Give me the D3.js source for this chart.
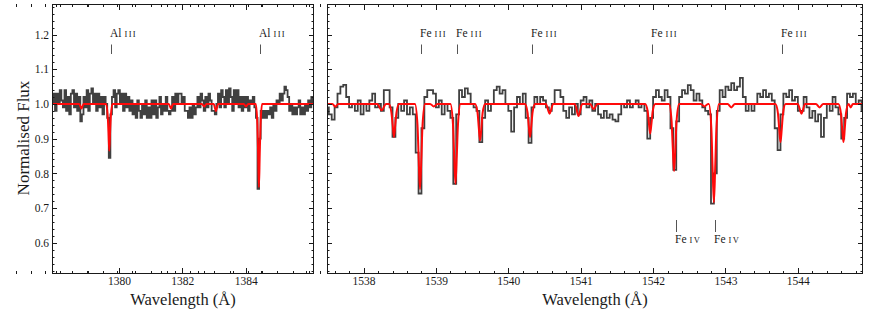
<!DOCTYPE html>
<html>
<head>
<meta charset="utf-8">
<script src="https://cdn.jsdelivr.net/npm/d3@7"></script>
<style>
  body { margin: 0; background: #fff; }
  svg { display: block; font-family: "Liberation Serif", "Times New Roman", serif; }
</style>
</head>
<body>
<svg width="872" height="312"></svg>
<script>
// observed spectrum, Al III window (bins of 0.05 A starting at leftStart)
const leftStart = 1377.90;
const leftStep = 0.05;
const leftFlux = [
  1.00, 1.03, 0.98, 1.03, 1.00, 1.04, 1.01, 0.99, 1.04, 0.98,
  1.02, 0.97, 1.03, 1.04, 0.99, 1.03, 0.98, 1.02, 0.95, 0.97,
  1.02, 0.99, 1.04, 0.98, 1.03, 1.045, 1.00, 1.03, 0.98, 1.03,
  0.99, 1.02, 0.97, 1.02, 1.00, 0.96, 0.845, 0.97, 1.02, 1.04,
  0.99, 1.03, 1.04, 1.00, 1.03, 0.98, 1.03, 0.99, 1.02, 0.98,
  1.01, 0.97, 1.00, 0.96, 1.01, 0.98, 0.96, 1.00, 0.97, 1.01,
  0.96, 0.99, 0.96, 1.01, 0.97, 1.01, 0.96, 0.99, 1.02, 0.97,
  1.00, 0.98, 1.02, 0.98, 0.97, 0.98, 1.02, 0.98, 1.03, 1.00,
  1.03, 1.03, 1.00, 1.02, 0.98, 0.98, 0.96, 0.99, 0.96, 1.00,
  0.97, 0.99, 1.02, 0.99, 1.03, 1.01, 0.98, 1.02, 0.99, 1.03,
  1.01, 0.98, 0.98, 0.97, 1.00, 1.03, 0.99, 1.04, 1.02, 0.99,
  1.04, 1.00, 1.045, 1.02, 0.98, 1.04, 1.00, 1.04, 0.99, 1.02,
  0.98, 1.02, 0.99, 1.02, 0.98, 1.01, 1.00, 1.02, 0.99, 0.96,
  0.755, 0.90, 0.98, 0.96, 0.98, 0.96, 0.98, 0.97, 0.99, 0.96,
  1.00, 0.98, 1.01, 1.00, 1.03, 1.01, 1.03, 1.05, 1.04, 1.02,
  0.98, 1.00, 0.97, 0.99, 0.97, 0.99, 1.01, 0.97, 0.99, 0.97,
  1.00, 0.98, 1.01, 0.99, 1.02, 1.00
];

// observed spectrum, Fe III / Fe IV window (bins of 0.04 A starting at rightStart)
const rightStart = 1537.50;
const rightStep = 0.04;
const rightFlux = [
  0.99, 0.97, 0.955, 0.99, 1.03, 1.05, 1.055, 1.02, 0.99, 1.00,
  0.98, 1.01, 0.97, 1.00, 0.98, 1.01, 1.03, 0.99, 1.00, 0.98,
  1.04, 1.04, 0.99, 0.905, 0.96, 1.00, 0.98, 1.01, 0.97, 0.99,
  0.97, 0.86, 0.742, 0.93, 1.02, 1.04, 1.04, 1.03, 0.99, 1.01,
  0.97, 1.00, 0.98, 0.96, 0.77, 0.97, 1.04, 1.02, 1.045, 1.03,
  1.00, 0.99, 0.98, 0.89, 0.96, 1.01, 0.98, 1.00, 1.04, 1.05,
  1.03, 1.04, 1.00, 0.98, 0.92, 0.99, 1.02, 1.00, 1.03, 0.96,
  0.888, 0.99, 1.02, 1.00, 1.02, 1.01, 0.99, 0.98, 1.00, 1.04,
  1.04, 1.02, 0.98, 0.96, 0.99, 0.97, 1.00, 0.97, 1.01, 1.02,
  0.99, 1.01, 0.98, 1.00, 0.97, 0.96, 0.98, 0.96, 0.97, 0.955,
  0.95, 0.97, 1.00, 0.99, 1.01, 0.99, 1.00, 1.01, 0.99, 1.00,
  0.98, 0.90, 0.96, 1.02, 1.04, 1.02, 1.01, 1.04, 1.02, 0.93,
  0.81, 0.95, 1.02, 1.04, 1.03, 1.054, 1.04, 1.01, 1.03, 1.01,
  0.99, 0.98, 0.97, 0.713, 0.80, 0.98, 1.04, 1.02, 1.05, 1.04,
  1.06, 1.04, 1.05, 1.075, 1.02, 0.98, 1.00, 0.98, 1.00, 1.03,
  1.02, 1.04, 1.02, 1.03, 1.01, 0.93, 0.867, 0.97, 1.03, 1.02,
  1.04, 1.01, 1.02, 0.98, 0.98, 1.02, 0.99, 0.96, 0.98, 0.95,
  0.97, 0.905, 0.96, 1.00, 0.98, 1.02, 0.99, 0.97, 0.90, 0.96,
  1.03, 1.02, 1.03, 1.00, 1.01, 0.98
];

// fitted model, [wavelength, flux] vertices
const leftModel = [
  [1377.90, 1.0],
  [1378.74, 1.0], [1378.81, 0.987], [1378.88, 1.0],
  [1379.59, 1.0], [1379.64, 0.966], [1379.665, 0.919], [1379.69, 0.865], [1379.715, 0.919], [1379.74, 0.966], [1379.79, 1.0],
  [1381.57, 1.0], [1381.64, 0.987], [1381.71, 1.0],
  [1382.62, 1.0], [1382.69, 0.993], [1382.76, 1.0],
  [1382.99, 1.0], [1383.06, 0.98], [1383.13, 1.0],
  [1383.94, 1.0], [1384.01, 0.993], [1384.08, 1.0],
  [1384.32, 1.0], [1384.37, 0.94], [1384.395, 0.856], [1384.42, 0.76], [1384.445, 0.856], [1384.47, 0.94], [1384.52, 1.0],
  [1386.15, 1.0]
];

const rightModel = [
  [1537.50, 1.0], [1537.57, 1.0], [1537.61, 0.992], [1537.65, 1.0],
  [1538.19, 1.0], [1538.25, 0.982], [1538.31, 1.0],
  [1538.35, 1.0], [1538.385, 0.975], [1538.402, 0.94], [1538.42, 0.905], [1538.438, 0.94], [1538.455, 0.975], [1538.49, 1.0],
  [1538.71, 1.0], [1538.745, 0.94], [1538.762, 0.84], [1538.78, 0.755], [1538.798, 0.84], [1538.815, 0.94], [1538.85, 1.0],
  [1538.92, 1.0], [1538.97, 0.993], [1539.02, 1.0],
  [1539.20, 1.0], [1539.235, 0.943], [1539.252, 0.85], [1539.27, 0.77], [1539.288, 0.85], [1539.305, 0.943], [1539.34, 1.0],
  [1539.54, 1.0], [1539.575, 0.974], [1539.592, 0.932], [1539.61, 0.895], [1539.628, 0.932], [1539.645, 0.974], [1539.68, 1.0],
  [1540.23, 1.0], [1540.265, 0.976], [1540.282, 0.938], [1540.30, 0.905], [1540.318, 0.938], [1540.335, 0.976], [1540.37, 1.0],
  [1540.52, 1.0], [1540.57, 0.972], [1540.62, 1.0],
  [1540.92, 1.0], [1540.97, 0.965], [1541.02, 1.0],
  [1541.13, 1.0], [1541.18, 0.985], [1541.23, 1.0],
  [1541.89, 1.0], [1541.925, 0.979], [1541.942, 0.945], [1541.96, 0.915], [1541.978, 0.945], [1541.995, 0.979], [1542.03, 1.0],
  [1542.22, 1.0], [1542.255, 0.952], [1542.272, 0.875], [1542.29, 0.807], [1542.308, 0.875], [1542.325, 0.952], [1542.36, 1.0],
  [1542.66, 1.0], [1542.71, 0.993], [1542.76, 1.0],
  [1542.77, 1.0], [1542.805, 0.929], [1542.822, 0.816], [1542.84, 0.716], [1542.858, 0.816], [1542.875, 0.929], [1542.91, 1.0],
  [1543.03, 1.0], [1543.08, 0.99], [1543.13, 1.0],
  [1543.69, 1.0], [1543.725, 0.973], [1543.742, 0.929], [1543.76, 0.89], [1543.778, 0.929], [1543.795, 0.973], [1543.83, 1.0],
  [1544.00, 1.0], [1544.05, 0.972], [1544.10, 1.0],
  [1544.25, 1.0], [1544.30, 0.99], [1544.35, 1.0],
  [1544.56, 1.0], [1544.595, 0.973], [1544.612, 0.929], [1544.63, 0.89], [1544.648, 0.929], [1544.665, 0.973], [1544.70, 1.0],
  [1544.73, 0.99], [1544.76, 1.0], [1544.90, 1.0]
];

// line identifications
const alLines = [1379.74, 1384.45];
const feIIILines = [1538.80, 1539.29, 1540.33, 1541.99, 1543.78];
const feIVLines = [1542.32, 1542.86];

// tick labels
const yTicks = [0.6, 0.7, 0.8, 0.9, 1.0, 1.1, 1.2];
const leftXTicks = [1380, 1382, 1384];
const rightXTicks = [1538, 1539, 1540, 1541, 1542, 1543, 1544];

(function() {
    var svg = d3.select("svg");
    var yTop = 4, yBottom = 274;
    var ink = "#1a1a1a";
    var serif = "'Liberation Serif', 'Times New Roman', serif";

    var y = d3.scaleLinear().domain([0.51, 1.288]).range([yBottom, yTop]);
    var yMinor = d3.range(52, 129, 2).map(function(v) { return v / 100; });

    function addLabel(g, x, lam, ion, stage, tickTop, tickBot, baseline) {
        var px = Math.round(x(lam)) + 0.5;
        g.append("line")
            .attr("x1", px).attr("x2", px)
            .attr("y1", tickTop).attr("y2", tickBot)
            .attr("stroke", "#555").attr("stroke-width", 1);
        var t = g.append("text")
            .attr("x", px - 1.5).attr("y", baseline)
            .attr("fill", ink).attr("font-size", "11.5px");
        t.append("tspan").text(ion);
        t.append("tspan").attr("dx", 3).attr("font-size", "8.5px")
            .attr("letter-spacing", "1.3px").text(stage);
    }

    function drawPanel(p) {
        var x = d3.scaleLinear().domain(p.domain).range([p.left, p.right]);
        var g = svg.append("g");

        svg.append("clipPath").attr("id", "clip-" + p.name)
          .append("rect")
            .attr("x", p.left).attr("y", yTop)
            .attr("width", p.right - p.left).attr("height", yBottom - yTop);

        var spec = p.flux.map(function(f, i) { return [p.start + i * p.step, f]; });

        g.append("path")
            .datum(spec)
            .attr("clip-path", "url(#clip-" + p.name + ")")
            .attr("fill", "none")
            .attr("stroke", "#404040")
            .attr("stroke-width", 1.8)
            .attr("d", d3.line()
                .x(function(d) { return x(d[0]); })
                .y(function(d) { return y(d[1]); })
                .curve(d3.curveStep));

        g.append("path")
            .datum(p.model)
            .attr("clip-path", "url(#clip-" + p.name + ")")
            .attr("fill", "none")
            .attr("stroke", "#ff0a0a")
            .attr("stroke-width", 2)
            .attr("d", d3.line()
                .x(function(d) { return x(d[0]); })
                .y(function(d) { return y(d[1]); })
                .curve(d3.curveMonotoneX));

        //Tick labels from d3 axes (no tick lines here)
        function labelAxis(gen, scale, values, pos, fmt) {
            var ag = g.append("g").attr("transform", pos)
                .call(gen(scale).tickValues(values).tickSize(0).tickPadding(fmt === "x" ? 3 : 3)
                    .tickFormat(fmt === "x" ? d3.format("d") : d3.format(".1f")));
            ag.attr("font-family", serif).attr("font-size", "11.5px");
            ag.select(".domain").remove();
            ag.selectAll(".tick line").remove();
            ag.selectAll(".tick text").attr("fill", ink);
        }
        labelAxis(d3.axisBottom, x, p.xTicks, "translate(0," + yBottom + ")", "x");
        if (p.yLabels) labelAxis(d3.axisLeft, y, yTicks, "translate(" + p.left + ",0)", "y");

        //Inward ticks on all four sides
        function xTickMarks(values, len) {
            [[yBottom, -len], [yTop, len]].forEach(function(s) {
                g.append("g").selectAll("line").data(values).join("line")
                    .attr("x1", function(d) { return Math.round(x(d)) + 0.5; })
                    .attr("x2", function(d) { return Math.round(x(d)) + 0.5; })
                    .attr("y1", s[0]).attr("y2", s[0] + s[1])
                    .attr("stroke", ink).attr("stroke-width", 1);
            });
        }
        function yTickMarks(values, len) {
            [[p.left, len], [p.right, -len]].forEach(function(s) {
                g.append("g").selectAll("line").data(values).join("line")
                    .attr("y1", function(d) { return Math.round(y(d)) + 0.5; })
                    .attr("y2", function(d) { return Math.round(y(d)) + 0.5; })
                    .attr("x1", s[0]).attr("x2", s[0] + s[1])
                    .attr("stroke", ink).attr("stroke-width", 1);
            });
        }
        xTickMarks(p.xTicks, 6);
        xTickMarks(p.xMinor, 3);
        yTickMarks(yTicks, 5);
        yTickMarks(yMinor, 2.5);

        g.append("rect")
            .attr("x", p.left + 0.5).attr("y", yTop + 0.5)
            .attr("width", p.right - p.left - 1).attr("height", yBottom - yTop - 1)
            .attr("fill", "none").attr("stroke", ink).attr("stroke-width", 1);

        g.append("text")
            .attr("x", (p.left + p.right) / 2).attr("y", 305)
            .attr("text-anchor", "middle")
            .attr("fill", ink)
            .attr("font-size", "16.5px")
            .text("Wavelength (\u00C5)");

        p.labels(g, x);
    }

    drawPanel({
        name: "al",
        left: 52, right: 314,
        domain: [1377.88, 1386.16],
        start: leftStart, step: leftStep, flux: leftFlux,
        model: leftModel,
        xTicks: leftXTicks,
        xMinor: [1378, 1378.5, 1379, 1379.5, 1380.5, 1381, 1381.5, 1382.5, 1383, 1383.5, 1384.5, 1385, 1385.5, 1386],
        yLabels: true,
        labels: function(g, x) {
            alLines.forEach(function(l) { addLabel(g, x, l, "Al", "III", 44.5, 54, 37.3); });
        }
    });

    drawPanel({
        name: "fe",
        left: 327, right: 863,
        domain: [1537.495, 1544.9],
        start: rightStart, step: rightStep, flux: rightFlux,
        model: rightModel,
        xTicks: rightXTicks,
        xMinor: d3.range(7376, 7725).filter(function(v) { return v % 5 !== 0; }).map(function(v) { return v / 5; }),
        yLabels: false,
        labels: function(g, x) {
            feIIILines.forEach(function(l) { addLabel(g, x, l, "Fe", "III", 44.5, 54, 37.3); });
            feIVLines.forEach(function(l) { addLabel(g, x, l, "Fe", "IV", 220, 232, 243); });
        }
    });

    //Y label
    svg.append("text")
        .attr("transform", "translate(29,138) rotate(-90)")
        .attr("text-anchor", "middle")
        .attr("fill", ink)
        .attr("font-size", "17px")
        .text("Normalised Flux");
})();
</script>
</body>
</html>
